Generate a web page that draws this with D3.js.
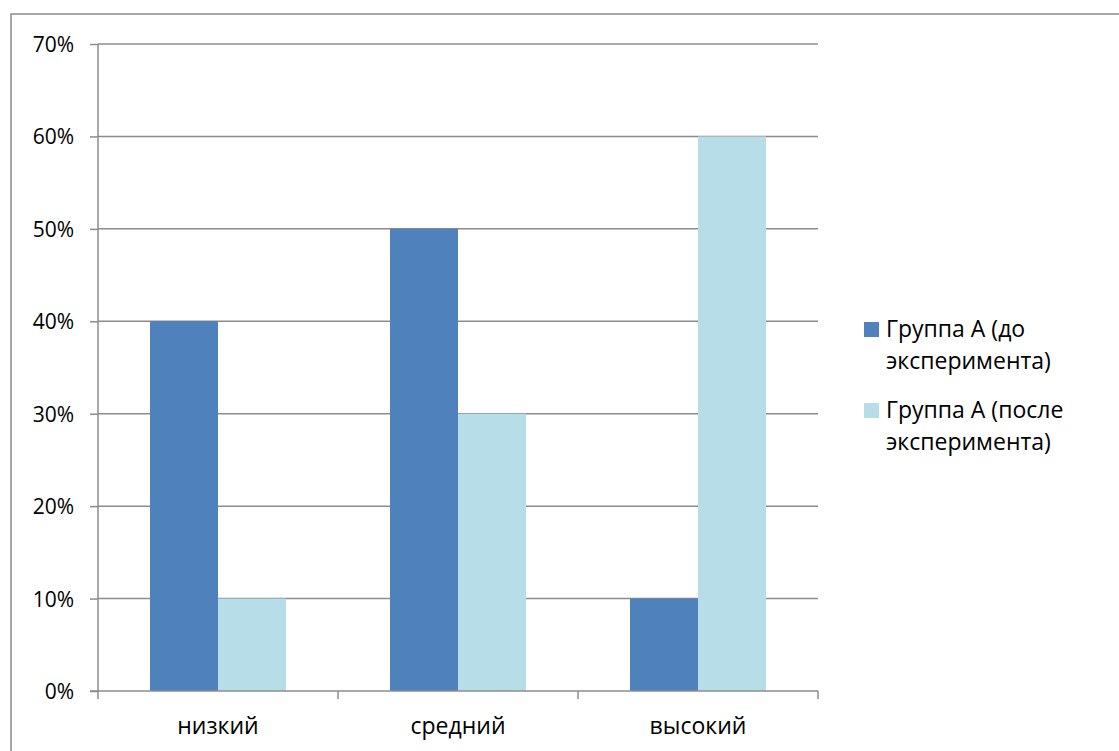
<!DOCTYPE html>
<html><head><meta charset="utf-8">
<script src="https://cdn.jsdelivr.net/npm/d3@7"></script>
<style>body{margin:0;background:#fff}svg{display:block}</style>
</head><body>
<svg id="c" width="1119" height="751"></svg>
<script>
const categories = ["низкий", "средний", "высокий"];
const seriesNames = ["Группа А (до эксперимента)", "Группа А (после эксперимента)"];
const seriesLegendLines = [["Группа А (до", "эксперимента)"], ["Группа А (после", "эксперимента)"]];
const before = [0.40, 0.50, 0.10];
const after = [0.10, 0.30, 0.60];
const yTicks = [0, 0.1, 0.2, 0.3, 0.4, 0.5, 0.6, 0.7];
const colors = ["#4F81BD", "#B7DEE8"];

const FONT = "'Open Sans','Noto Sans',sans-serif";
const svg = d3.select("#c");
const L = 98, R = 818, T = 44, B = 691;
const grid = "#8c8c8c";

// outer frame
svg.append("rect").attr("x", 11).attr("y", 14).attr("width", 1200).attr("height", 800)
  .attr("fill", "none").attr("stroke", grid).attr("stroke-width", 1.5);

const x = d3.scaleBand().domain(categories).range([L, R]).padding(0);
const y = d3.scaleLinear().domain([0, 0.7]).range([B, T]);
const barW = 68;

// gridlines
svg.append("g").selectAll("line").data(yTicks.filter(d => d > 0)).join("line")
  .attr("x1", L).attr("x2", R).attr("y1", d => y(d)).attr("y2", d => y(d))
  .attr("stroke", grid).attr("stroke-width", 1.5);

// bars
const data = [before, after];
data.forEach((vals, si) => {
  svg.append("g").selectAll("rect").data(categories).join("rect")
    .attr("x", (c) => x(c) + x.bandwidth() / 2 - barW + si * barW)
    .attr("y", (c, i) => y(vals[i]))
    .attr("width", barW)
    .attr("height", (c, i) => y(0) - y(vals[i]))
    .attr("fill", colors[si]);
});

// y axis
const yAxis = d3.axisLeft(y).tickValues(yTicks).tickFormat(d3.format(".0%")).tickSize(8).tickPadding(16);
const yg = svg.append("g").attr("transform", `translate(${L},0)`).call(yAxis);
yg.attr("font-family", FONT).attr("font-size", 21);
yg.select(".domain").attr("stroke", grid).attr("stroke-width", 1.5).attr("d", `M0,${T}V${B}`);
yg.selectAll(".tick line").attr("stroke", grid).attr("stroke-width", 1.5);
yg.selectAll(".tick text").attr("fill", "#000").attr("dy", "0.36em");

// x axis
const xg = svg.append("g").attr("transform", `translate(0,${B})`).attr("font-family", FONT);
xg.append("line").attr("x1", L - 8).attr("x2", R).attr("stroke", grid).attr("stroke-width", 1.5);
const bounds = categories.map(c => x(c)).concat([R]);
xg.selectAll("line.t").data(bounds).join("line").attr("class", "t")
  .attr("x1", d => d).attr("x2", d => d).attr("y1", 0).attr("y2", 8)
  .attr("stroke", grid).attr("stroke-width", 1.5);
xg.selectAll("text").data(categories).join("text")
  .attr("x", c => x(c) + x.bandwidth() / 2).attr("y", 43)
  .attr("text-anchor", "middle").attr("font-size", 23).text(c => c);

// legend
const lg = svg.append("g").attr("font-family", FONT);
const legY = [337, 418];
seriesNames.forEach((s, i) => {
  lg.append("rect").attr("x", 864).attr("y", legY[i] - 15).attr("width", 15).attr("height", 15).attr("fill", colors[i]);
  const t = lg.append("text").attr("x", 886).attr("y", legY[i]).attr("font-size", 23);
  seriesLegendLines[i].forEach((ln, k) => t.append("tspan").attr("x", 886).attr("dy", k ? 32 : 0).text(ln));
});
</script>
</body></html>
